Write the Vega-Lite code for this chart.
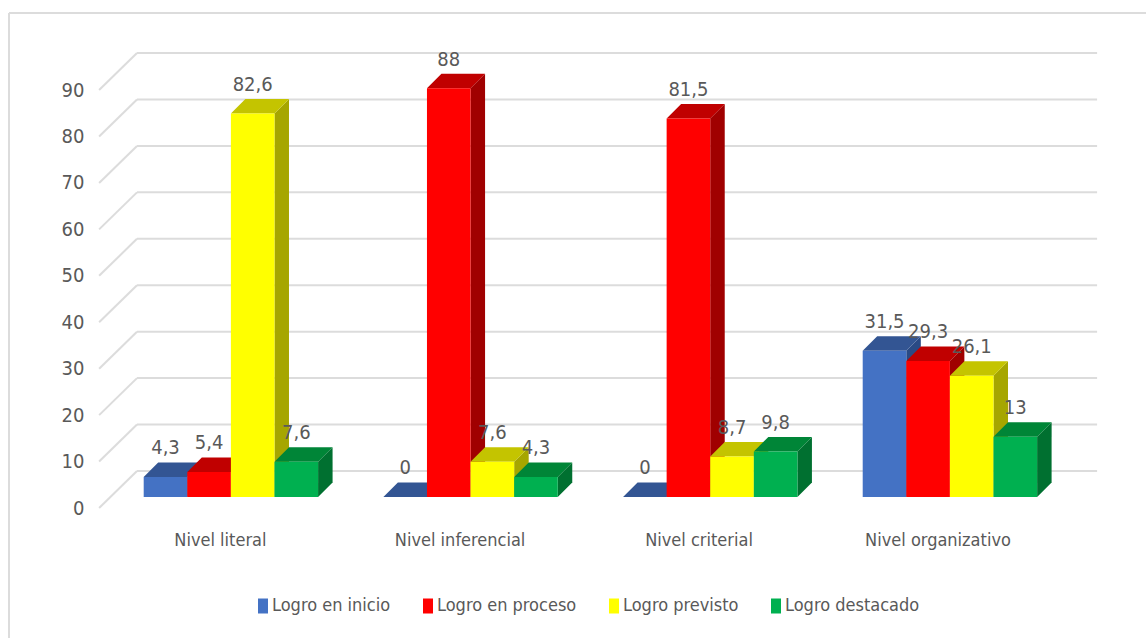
{
"$schema":"https://vega.github.io/schema/vega-lite/v6.json",
"width":1146,"height":638,"padding":0,"autosize":{"type":"none"},"background":"white",
"config":{"view":{"stroke":null},"font":"DejaVu Sans Condensed"},
"datasets":{
"bars":[
{"nivel":"Nivel literal","logro":"Logro en inicio","valor":4.3},
{"nivel":"Nivel literal","logro":"Logro en proceso","valor":5.4},
{"nivel":"Nivel literal","logro":"Logro previsto","valor":82.6},
{"nivel":"Nivel literal","logro":"Logro destacado","valor":7.6},
{"nivel":"Nivel inferencial","logro":"Logro en inicio","valor":0},
{"nivel":"Nivel inferencial","logro":"Logro en proceso","valor":88},
{"nivel":"Nivel inferencial","logro":"Logro previsto","valor":7.6},
{"nivel":"Nivel inferencial","logro":"Logro destacado","valor":4.3},
{"nivel":"Nivel criterial","logro":"Logro en inicio","valor":0},
{"nivel":"Nivel criterial","logro":"Logro en proceso","valor":81.5},
{"nivel":"Nivel criterial","logro":"Logro previsto","valor":8.7},
{"nivel":"Nivel criterial","logro":"Logro destacado","valor":9.8},
{"nivel":"Nivel organizativo","logro":"Logro en inicio","valor":31.5},
{"nivel":"Nivel organizativo","logro":"Logro en proceso","valor":29.3},
{"nivel":"Nivel organizativo","logro":"Logro previsto","valor":26.1},
{"nivel":"Nivel organizativo","logro":"Logro destacado","valor":13}
],
"grid":[{"v":0},{"v":10},{"v":20},{"v":30},{"v":40},{"v":50},{"v":60},{"v":70},{"v":80},{"v":90}],
"frame":[{"x":-0.562,"x2":4.182,"y":106.6,"y2":106.6},{"x":-0.562,"x2":-0.562,"y":106.6,"y2":-28}]
},
"layer":[
{"data":{"name":"frame"},"mark":{"type":"rule","color":"#DCDCDC","strokeWidth":2},
 "encoding":{"x":{"field":"x","type":"quantitative","scale":{"domain":[-0.59958,4.182],"nice":false,"zero":false},"axis":{"title":null,"orient":"bottom","offset":-107,"values":[0.318,1.318,2.315,3.312],"domain":false,"ticks":false,"grid":false,"labelFontSize":18,"labelColor":"#595959","labelPadding":0,"labelExpr":"['Nivel literal','Nivel inferencial','Nivel criterial','Nivel organizativo'][round(datum.value-0.318)]"}},"x2":{"field":"x2"},
 "y":{"field":"y","type":"quantitative","scale":{"domain":[-27.99,109.39],"nice":false,"zero":false},"axis":{"title":null,"offset":-85,"values":[0,10,20,30,40,50,60,70,80,90],"domain":false,"ticks":false,"grid":false,"labelFontSize":20,"labelColor":"#595959","labelPadding":1}},"y2":{"field":"y2"}}},
{"data":{"name":"grid"},"transform":[{"calculate":"datum.v+7.97","as":"yb"},{"calculate":"-0.028","as":"xa"},{"calculate":"3.978","as":"xb"}],
 "mark":{"type":"rule","color":"#DCDCDC","strokeWidth":2},
 "encoding":{"x":{"field":"xa","type":"quantitative"},"x2":{"field":"xb"},"y":{"field":"yb","type":"quantitative"}}},
{"data":{"name":"grid"},"transform":[{"calculate":"datum.v+7.97","as":"yb"},{"calculate":"-0.028","as":"xa"},{"calculate":"-0.186","as":"xf"}],
 "mark":{"type":"rule","color":"#DCDCDC","strokeWidth":2},
 "encoding":{"x":{"field":"xf","type":"quantitative"},"x2":{"field":"xa"},"y":{"field":"v","type":"quantitative"},"y2":{"field":"yb"}}},
{"data":{"name":"bars"},
 "transform":[
 {"calculate":"indexof(['Nivel literal','Nivel inferencial','Nivel criterial','Nivel organizativo'],datum.nivel)+indexof(['Logro en inicio','Logro en proceso','Logro previsto','Logro destacado'],datum.logro)*0.1819","as":"x0"},
 {"calculate":"datum.x0+0.1819","as":"x1"},
 {"calculate":"2.37+datum.valor","as":"t"},
 {"calculate":"[datum.x1,datum.x1+0.0605]","as":"ax"},
 {"calculate":"[2.37,5.49]","as":"ay"},
 {"calculate":"[datum.t,datum.t+3.12]","as":"ay2"},
 {"flatten":["ax","ay","ay2"]},
 {"calculate":"datum.nivel+datum.logro","as":"id"}],
 "mark":{"type":"area","orient":"vertical"},
 "encoding":{"x":{"field":"ax","type":"quantitative"},"y":{"field":"ay","type":"quantitative","stack":null},"y2":{"field":"ay2"},"detail":{"field":"id"},
 "color":{"field":"logro","type":"nominal","legend":null,"scale":{"domain":["Logro en inicio","Logro en proceso","Logro previsto","Logro destacado"],"range":["#2A4A85","#A00000","#A6A600","#007030"]}}}},
{"data":{"name":"bars"},
 "transform":[
 {"calculate":"indexof(['Nivel literal','Nivel inferencial','Nivel criterial','Nivel organizativo'],datum.nivel)+indexof(['Logro en inicio','Logro en proceso','Logro previsto','Logro destacado'],datum.logro)*0.1819","as":"x0"},
 {"calculate":"datum.x0+0.1819","as":"x1"},
 {"calculate":"2.37+datum.valor","as":"t"},
 {"calculate":"[datum.x0,datum.x0+0.0605,datum.x1,datum.x1+0.0605]","as":"ax"},
 {"calculate":"[datum.t,datum.t,datum.t,datum.t+3.12]","as":"ay"},
 {"calculate":"[datum.t,datum.t+3.12,datum.t+3.12,datum.t+3.12]","as":"ay2"},
 {"flatten":["ax","ay","ay2"]},
 {"calculate":"datum.nivel+datum.logro","as":"id"}],
 "mark":{"type":"area","orient":"vertical"},
 "encoding":{"x":{"field":"ax","type":"quantitative"},"y":{"field":"ay","type":"quantitative","stack":null},"y2":{"field":"ay2"},"detail":{"field":"id"},
 "color":{"field":"logro","type":"nominal","legend":null,"scale":{"domain":["Logro en inicio","Logro en proceso","Logro previsto","Logro destacado"],"range":["#335593","#C00000","#C4C400","#008537"]}}}},
{"data":{"name":"bars"},
 "transform":[
 {"calculate":"indexof(['Nivel literal','Nivel inferencial','Nivel criterial','Nivel organizativo'],datum.nivel)+indexof(['Logro en inicio','Logro en proceso','Logro previsto','Logro destacado'],datum.logro)*0.1819","as":"x0"},
 {"calculate":"datum.x0+0.1819","as":"x1"},
 {"calculate":"2.37+datum.valor","as":"t"},
 {"calculate":"2.37","as":"b"}],
 "mark":{"type":"rect"},
 "encoding":{"x":{"field":"x0","type":"quantitative"},"x2":{"field":"x1"},"y":{"field":"b","type":"quantitative"},"y2":{"field":"t"},
 "color":{"field":"logro","type":"nominal","sort":null,"scale":{"domain":["Logro en inicio","Logro en proceso","Logro previsto","Logro destacado"],"range":["#4472C4","#FF0000","#FFFF00","#00B050"]},
 "legend":{"title":null,"orient":"none","legendX":254,"legendY":597,"direction":"horizontal","columns":4,"symbolType":"M-0.667,-1H0.667V1H-0.667Z","symbolSize":225,"symbolStrokeWidth":0,"labelFontSize":18,"labelColor":"#595959","labelOffset":0,"columnPadding":28,"labelFont":"DejaVu Sans Condensed"}}}},
{"data":{"name":"bars"},
 "transform":[
 {"calculate":"indexof(['Nivel literal','Nivel inferencial','Nivel criterial','Nivel organizativo'],datum.nivel)+indexof(['Logro en inicio','Logro en proceso','Logro previsto','Logro destacado'],datum.logro)*0.1819+0.091","as":"xc"},
 {"calculate":"2.37+datum.valor+6.2","as":"ty"},
 {"calculate":"replace(''+datum.valor,'.',',')","as":"lab"}],
 "mark":{"type":"text","fontSize":20,"color":"#595959","align":"center","baseline":"middle"},
 "encoding":{"x":{"field":"xc","type":"quantitative"},"y":{"field":"ty","type":"quantitative"},"text":{"field":"lab"}}}
],
"resolve":{"scale":{"color":"independent"}}
}
